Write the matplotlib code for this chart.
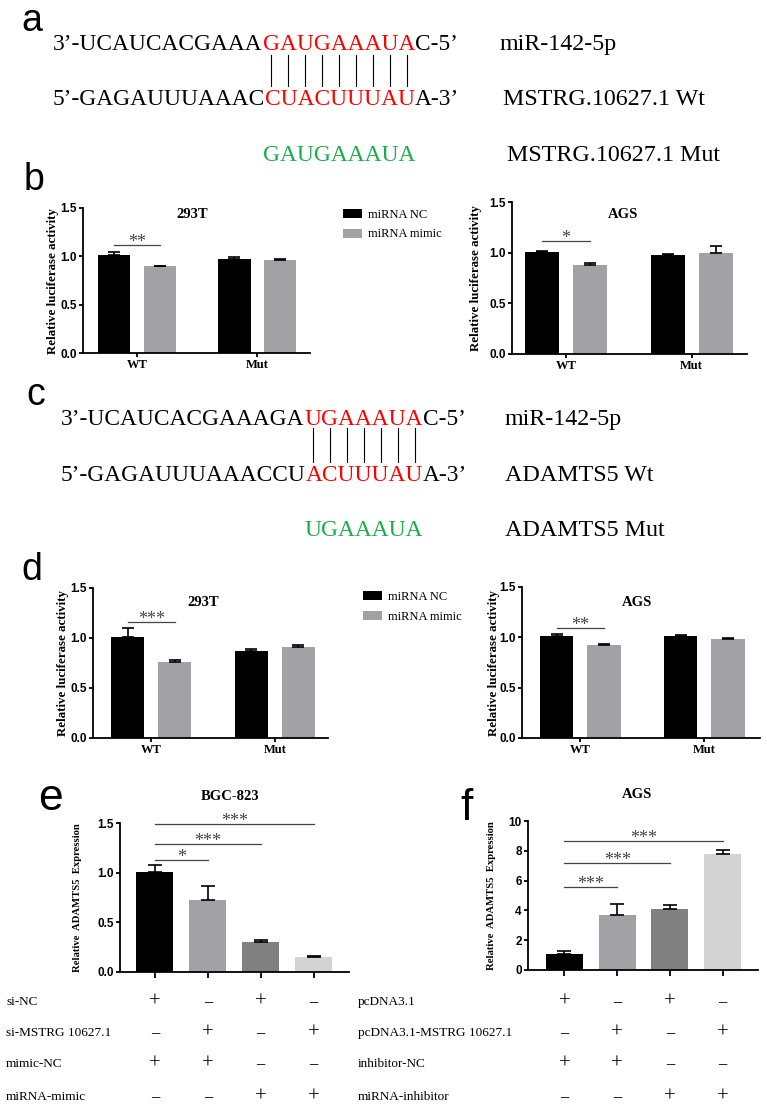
import numpy as np
import matplotlib
matplotlib.use("Agg")
import matplotlib.pyplot as plt
from matplotlib.lines import Line2D
from matplotlib.transforms import blended_transform_factory

W, H = 767, 1111
SERIF = "Liberation Serif"
SANS = "Liberation Sans"
RED = "#ff0000"
GREEN = "#1aad4b"
GRAY = "#a2a2a6"
SEQ_SIZE = 16.8

# sequences (panel a / c): black prefix, red seed, black suffix
a_mir = ["3’-UCAUCACGAAA", "GAUGAAAUA", "C-5’"]
a_wt = ["5’-GAGAUUUAAAC", "CUACUUUAU", "A-3’"]
a_mut = "GAUGAAAUA"
a_names = ["miR-142-5p", "MSTRG.10627.1 Wt", "MSTRG.10627.1 Mut"]
c_mir = ["3’-UCAUCACGAAAGA", "UGAAAUA", "C-5’"]
c_wt = ["5’-GAGAUUUAAACCU", "ACUUUAU", "A-3’"]
c_mut = "UGAAAUA"
c_names = ["miR-142-5p", "ADAMTS5 Wt", "ADAMTS5 Mut"]

# luciferase (panels b / d)
groups = ["WT", "Mut"]
legend_labels = ["miRNA NC", "miRNA mimic"]
b293_nc, b293_nc_err = [1.01, 0.97], [0.04, 0.025]
b293_mim, b293_mim_err = [0.895, 0.96], [0.01, 0.01]
bags_nc, bags_nc_err = [1.01, 0.98], [0.01, 0.01]
bags_mim, bags_mim_err = [0.88, 1.0], [0.015, 0.07]
d293_nc, d293_nc_err = [1.01, 0.875], [0.09, 0.015]
d293_mim, d293_mim_err = [0.76, 0.915], [0.02, 0.02]
dags_nc, dags_nc_err = [1.01, 1.01], [0.025, 0.01]
dags_mim, dags_mim_err = [0.92, 0.985], [0.015, 0.005]
luc_ticks = [0.0, 0.5, 1.0, 1.5]

# qPCR (panels e / f)
e_vals, e_err = [1.005, 0.725, 0.30, 0.155], [0.07, 0.145, 0.02, 0.01]
f_vals, f_err = [1.05, 3.70, 4.12, 7.78], [0.22, 0.72, 0.22, 0.30]
e_sig = [(1, 1.13, "*"), (2, 1.29, "***"), (3, 1.49, "***")]
f_sig = [(1, 5.57, "***"), (2, 7.18, "***"), (3, 8.66, "***")]
e_ticks = [0.0, 0.5, 1.0, 1.5]
f_ticks = [0, 2, 4, 6, 8, 10]
bar_colors = ["#000000", GRAY, "#808080", "#d3d3d3"]
e_rows = ["si-NC", "si-MSTRG 10627.1", "mimic-NC", "miRNA-mimic"]
f_rows = ["pcDNA3.1", "pcDNA3.1-MSTRG 10627.1", "inhibitor-NC", "miRNA-inhibitor"]
e_signs = [["+", "–", "+", "–"], ["–", "+", "–", "+"],
           ["+", "+", "–", "–"], ["–", "–", "+", "+"]]
f_signs = [["+", "–", "+", "–"], ["–", "+", "–", "+"],
           ["+", "+", "–", "–"], ["–", "–", "+", "+"]]
row_y = [1002, 1033, 1064, 1097]


def fx(x):
    return x / W


def fy(y):
    return 1 - y / H


def px_rect(x0, y0, x1, y1):
    return [x0 / W, 1 - y1 / H, (x1 - x0) / W, (y1 - y0) / H]


fig = plt.figure(figsize=(W / 100, H / 100), dpi=100)
rend = fig.canvas.get_renderer()

# panel letters
for lab, x, y, s in [("a", 21, 31, 27), ("b", 24, 190, 27), ("c", 26, 405, 27),
                     ("d", 21, 580, 27), ("e", 38, 810, 32), ("f", 460, 820, 32)]:
    fig.text(fx(x), fy(y), lab, family=SANS, fontsize=s, va="baseline")


def seq_line(x, y, parts, colors):
    xs = x
    seed_x = None
    for s, c in zip(parts, colors):
        t = fig.text(fx(xs), fy(y), s, color=c, family=SERIF, fontsize=SEQ_SIZE, va="baseline")
        if c == RED:
            seed_x = xs
        xs += t.get_window_extent(rend).width
    return seed_x


def letter_centers(x0, s):
    prop = matplotlib.font_manager.FontProperties(family=SERIF, size=SEQ_SIZE)
    out = []
    for i in range(len(s)):
        w0 = rend.get_text_width_height_descent(s[:i], prop, ismath=False)[0] if i else 0
        w1 = rend.get_text_width_height_descent(s[:i + 1], prop, ismath=False)[0]
        out.append(x0 + (w0 + w1) / 2)
    return out


def pairing(x0, ys, top, wt, mut, names, line_y, name_x):
    cols = ["black", RED, "black"]
    seed_x = seq_line(x0, ys[0], top, cols)
    seq_line(x0, ys[1], wt, cols)
    fig.text(fx(seed_x), fy(ys[2]), mut, color=GREEN, family=SERIF, fontsize=SEQ_SIZE,
             va="baseline")
    for cx in letter_centers(seed_x, top[1]):
        fig.add_artist(Line2D([fx(cx), fx(cx)], [fy(line_y[0]), fy(line_y[1])],
                              color="black", lw=0.8, transform=fig.transFigure))
    for nm, y, nx in zip(names, ys, name_x):
        fig.text(fx(nx), fy(y), nm, family=SERIF, fontsize=17.3, va="baseline")


pairing(53, [50, 105, 161], a_mir, a_wt, a_mut, a_names, (55, 86), [500, 503, 507])
pairing(61, [425, 481, 536], c_mir, c_wt, c_mut, c_names, (428, 462), [505, 505, 505])


def style(ax, ylab, ylab_x, ylab_size, ticks, ticklabels):
    for s in ("top", "right"):
        ax.spines[s].set_visible(False)
    for s in ("left", "bottom"):
        ax.spines[s].set_linewidth(1.3)
    ax.tick_params(direction="out", length=3, width=1.3, pad=1.5)
    ax.set_yticks(ticks, ticklabels, family=SANS, weight="bold", fontsize=8.5)
    ax.set_ylim(ticks[0], ticks[-1])
    ax.set_ylabel(ylab, family=SERIF, weight="bold", fontsize=ylab_size, va="center")
    pos = ax.get_position()
    ax.yaxis.set_label_coords(fx(ylab_x), pos.y0 + pos.height / 2, transform=fig.transFigure)


def sig_bar(ax, x0, x1, y, stars):
    ax.plot([x0, x1], [y, y], color="#444444", lw=0.9, clip_on=False)
    ax.annotate(stars, xy=((x0 + x1) / 2, y), xytext=(0, -1.5), textcoords="offset points",
                ha="center", va="baseline", fontsize=13, family=SERIF, color="#444444",
                annotation_clip=False)


def luc_panel(box, xlim, title, title_xy, nc, nc_err, mim, mim_err, sig, ylab_x):
    ax = fig.add_axes(px_rect(*box))
    x = np.arange(len(groups))
    ek = dict(ecolor="black", elinewidth=1.2, capsize=4.5, capthick=1.2)
    b1 = ax.bar(x - 0.19, nc, 0.27, color="black", yerr=[np.zeros(len(nc)), nc_err], error_kw=ek)
    b2 = ax.bar(x + 0.19, mim, 0.27, color=GRAY, yerr=[np.zeros(len(mim)), mim_err], error_kw=ek)
    ax.set_xlim(*xlim)
    ax.set_xticks(x, groups, family=SERIF, weight="bold", fontsize=9)
    style(ax, "Relative luciferase activity", ylab_x, 9.3, luc_ticks,
          ["%.1f" % t for t in luc_ticks])
    gi, y, stars = sig
    sig_bar(ax, gi - 0.19, gi + 0.19, y, stars)
    fig.text(fx(title_xy[0]), fy(title_xy[1]), title, family=SERIF, weight="bold",
             fontsize=10.5, ha="center", va="center")
    return b1, b2


h = luc_panel((83, 208, 310, 353), (-0.45, 1.44), "293T", (192, 214),
              b293_nc, b293_nc_err, b293_mim, b293_mim_err, (0, 1.12, "**"), 53)
luc_panel((512, 202, 747, 354), (-0.43, 1.44), "AGS", (623, 214),
          bags_nc, bags_nc_err, bags_mim, bags_mim_err, (0, 1.115, "*"), 476)
luc_panel((93, 588, 328, 738), (-0.47, 1.43), "293T", (203, 602),
          d293_nc, d293_nc_err, d293_mim, d293_mim_err, (0, 1.16, "***"), 63)
luc_panel((522, 587, 760, 738), (-0.47, 1.45), "AGS", (637, 602),
          dags_nc, dags_nc_err, dags_mim, dags_mim_err, (0, 1.09, "**"), 494)

for lx, ly in [(343, 209), (363, 591)]:
    fig.legend([h[0][0], h[1][0]], legend_labels, loc="upper left",
               bbox_to_anchor=(fx(lx), fy(ly)), frameon=False,
               prop=dict(family=SERIF, size=9), handlelength=1.55, handleheight=0.75,
               handletextpad=0.45, labelspacing=0.6, borderpad=0, borderaxespad=0)


def qpcr_panel(box, xlim, vals, err, ticks, ticklabels, sig, title, title_xy, ylab_x,
               rows, signs, row_x):
    ax = fig.add_axes(px_rect(*box))
    x = np.arange(len(vals))
    ax.bar(x, vals, 0.70, color=bar_colors, yerr=[np.zeros(len(vals)), err],
           error_kw=dict(ecolor="black", elinewidth=1.2, capsize=5, capthick=1.2))
    ax.set_xlim(*xlim)
    ax.set_xticks(x, [])
    style(ax, "Relative  ADAMTS5  Expression", ylab_x, 7.7, ticks, ticklabels)
    ax.tick_params(axis="x", length=4.5)
    for j, y, stars in sig:
        sig_bar(ax, 0, j, y, stars)
    fig.text(fx(title_xy[0]), fy(title_xy[1]), title, family=SERIF, weight="bold",
             fontsize=10.5, ha="center", va="center")
    tr = blended_transform_factory(ax.transData, fig.transFigure)
    for name, row, y in zip(rows, signs, row_y):
        fig.text(fx(row_x), fy(y), name, family=SERIF, fontsize=9.5, va="center")
        for j, s in enumerate(row):
            if s == "+":
                ax.text(j, fy(y), s, transform=tr, family=SERIF, fontsize=15,
                        ha="center", va="center")
            else:
                ax.text(j, fy(y), s, transform=tr, family=SERIF, fontsize=12,
                        weight="bold", ha="center", va="center")


qpcr_panel((120, 823, 349, 972), (-0.66, 3.67), e_vals, e_err, e_ticks,
           ["%.1f" % t for t in e_ticks], e_sig, "BGC-823", (230, 797), 77,
           e_rows, e_signs, 6)
qpcr_panel((528, 821, 758, 970), (-0.69, 3.67), f_vals, f_err, f_ticks,
           [str(t) for t in f_ticks], f_sig, "AGS", (637, 795), 491,
           f_rows, f_signs, 358)

fig.savefig("out.png", dpi=100)
